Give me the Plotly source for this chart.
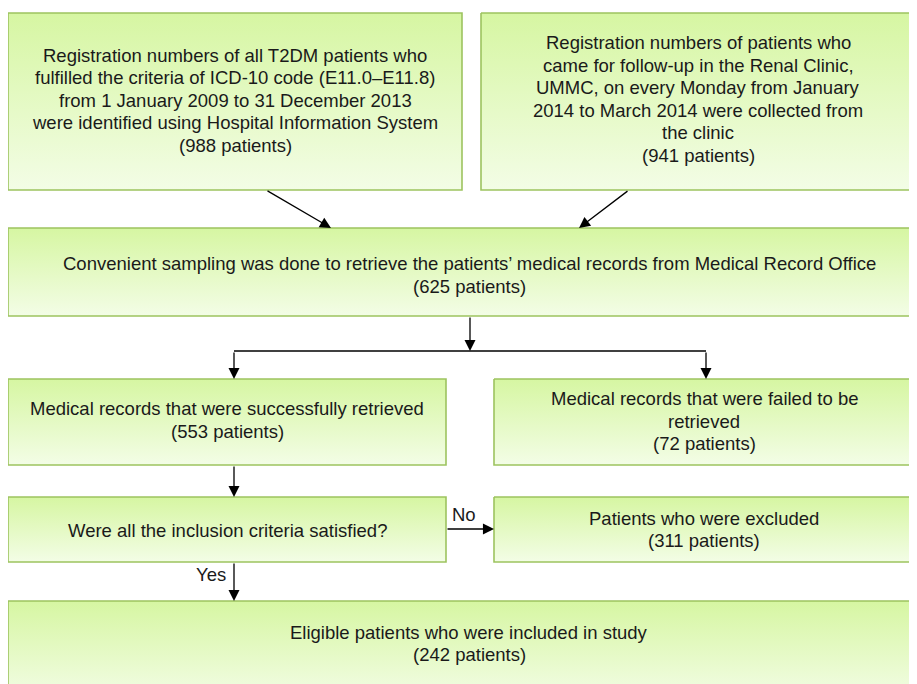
import plotly.graph_objects as go

# ---- data (text content) ----
box1_lines = ["Registration numbers of all T2DM patients who",
              "fulfilled the criteria of ICD-10 code (E11.0–E11.8)",
              "from 1 January 2009 to 31 December 2013",
              "were identified using Hospital Information System",
              "(988 patients)"]
box2_lines = ["Registration numbers of patients who",
              "came for follow-up in the Renal Clinic,",
              "UMMC, on every Monday from January",
              "2014 to March 2014 were collected from",
              "the clinic",
              "(941 patients)"]
box3_lines = ["Convenient sampling was done to retrieve the patients’ medical records from Medical Record Office",
              "(625 patients)"]
box4_lines = ["Medical records that were successfully retrieved", "(553 patients)"]
box5_lines = ["Medical records that were failed to be", "retrieved", "(72 patients)"]
box6_lines = ["Were all the inclusion criteria satisfied?"]
box7_lines = ["Patients who were excluded", "(311 patients)"]
box8_lines = ["Eligible patients who were included in study", "(242 patients)"]
branch_labels = ["No", "Yes"]

# ---- layout geometry (pixels, y downward) ----
boxes = [
    # (x0, y0, x1, y1, text_cx, text_cy, lines)
    (8, 13, 462, 190, 235, 100, box1_lines),
    (481, 13, 925, 190, 698, 99, box2_lines),
    (8, 228, 925, 316, 469, 275, box3_lines),
    (8, 379, 446, 465, 227, 420, box4_lines),
    (494, 379, 925, 465, 704, 421, box5_lines),
    (8, 497, 446, 562, 227, 530, box6_lines),
    (494, 497, 925, 562, 704, 529.5, box7_lines),
    (8, 601, 925, 700, 469, 643.5, box8_lines),
]
LINE_H = 22.5
FONT = dict(family="Liberation Sans, Arial, sans-serif", size=18.5, color="#1a1a1a")
TOP_C, BOT_C, BORDER = "#f3fde6", "#d6f6a2", "#9dc35f"

fig = go.Figure()
annotations = []
for (x0, y0, x1, y1, cx, cy, lines) in boxes:
    fig.add_trace(go.Scatter(
        x=[x0, x1, x1, x0, x0], y=[y0, y0, y1, y1, y0],
        mode="lines", fill="toself",
        fillgradient=dict(type="vertical", colorscale=[[0, TOP_C], [1, BOT_C]]),
        line=dict(color=BORDER, width=1.6), hoverinfo="skip", showlegend=False))
    n = len(lines)
    for i, t in enumerate(lines):
        yy = cy + (i - (n - 1) / 2) * LINE_H
        annotations.append(dict(x=cx, y=yy, text=t, showarrow=False, xref="x", yref="y",
                                xanchor="center", yanchor="middle", font=FONT))

def arrow(x0, y0, x1, y1):
    annotations.append(dict(x=x1, y=y1, ax=x0, ay=y0, xref="x", yref="y", axref="x", ayref="y",
                            text="", showarrow=True, arrowhead=2, arrowsize=1.7,
                            arrowwidth=1.3, arrowcolor="#000000", standoff=0))

arrow(266, 190, 331, 228)
arrow(629, 190, 579, 228)
arrow(470, 316, 470, 351)
arrow(234, 351, 234, 379)
arrow(706, 351, 706, 379)
arrow(234, 465, 234, 497)
arrow(446, 529, 494, 529)
arrow(234, 562, 234, 601)

shapes = [dict(type="line", x0=234, y0=351, x1=706, y1=351, xref="x", yref="y",
               line=dict(color="#000000", width=1.3))]

annotations.append(dict(x=464, y=514, text=branch_labels[0], showarrow=False, xref="x", yref="y",
                        xanchor="center", yanchor="middle", font=FONT))
annotations.append(dict(x=211, y=574, text=branch_labels[1], showarrow=False, xref="x", yref="y",
                        xanchor="center", yanchor="middle", font=FONT))

# The page body has an 8px margin, so the figure is offset by 8px; compensate.
OFF = 8
fig.update_layout(
    width=917 - OFF, height=684 - OFF, margin=dict(l=0, r=0, t=0, b=0),
    paper_bgcolor="white", plot_bgcolor="white",
    xaxis=dict(range=[OFF, 917], visible=False, fixedrange=True),
    yaxis=dict(range=[684, OFF], visible=False, fixedrange=True),
    annotations=annotations, shapes=shapes, showlegend=False,
)
fig.write_html("out.html")
